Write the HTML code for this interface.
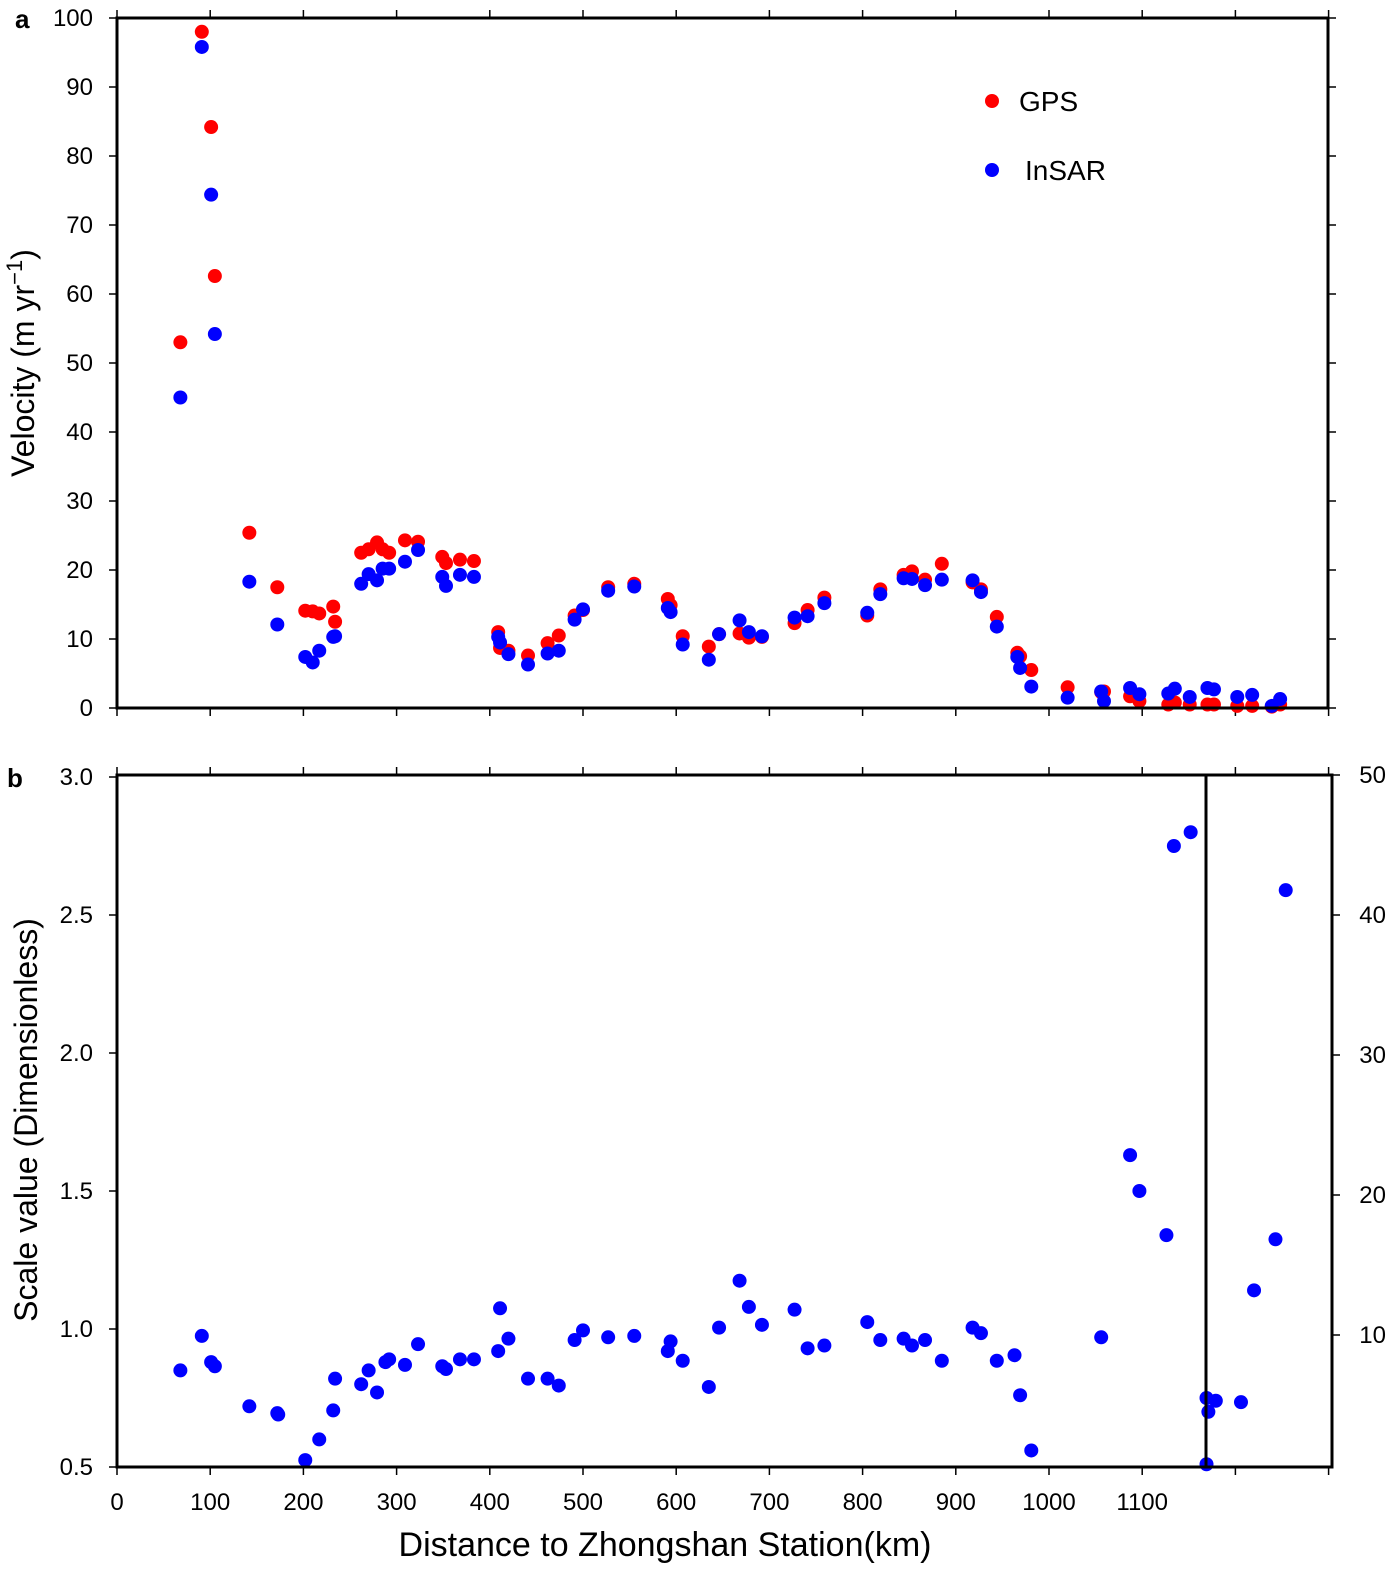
<!DOCTYPE html>
<html><head><meta charset="utf-8"><style>
body{margin:0;background:#fff;}
svg{display:block;font-family:"Liberation Sans","DejaVu Sans",sans-serif;}
</style></head><body>
<svg id="chart" width="1400" height="1580" viewBox="0 0 1400 1580" xmlns="http://www.w3.org/2000/svg">
<g id="gA"></g>
<g id="gB"></g>
</svg>
<script>
// ---- data (distance km, values) ----
const distA = [68,91,101,105,142,172,202,210,217,232,234,262,270,279,285,292,309,323,349,353,368,383,409,411,420,441,462,474,491,500,527,555,591,594,607,635,646,668,678,692,727,741,759,805,819,844,853,867,885,918,927,944,966,969,981,1020,1056,1059,1087,1097,1128,1135,1151,1170,1177,1202,1218,1239,1248];
const gpsVals = [53,98,84.2,62.6,25.4,17.5,14.1,14,13.7,14.7,12.5,22.5,23,24,23,22.5,24.3,24.1,21.9,21,21.5,21.3,11,8.7,8.3,7.6,9.4,10.5,13.4,14.2,17.5,18,15.8,14.9,10.4,8.9,10.7,10.8,10.2,10.3,12.3,14.2,16,13.4,17.2,19.3,19.8,18.6,20.9,18.2,17.2,13.2,8,7.5,5.5,3,2.3,2.4,1.7,1.0,0.5,0.8,0.5,0.5,0.5,0.3,0.3,0.2,0.5];
const insarVals = [45,95.8,74.4,54.2,18.3,12.1,7.4,6.6,8.3,10.3,10.4,18,19.4,18.5,20.2,20.2,21.2,22.9,19,17.7,19.3,19,10.3,9.5,7.8,6.3,7.9,8.3,12.8,14.3,17,17.6,14.5,13.9,9.2,7,10.7,12.7,11,10.4,13.1,13.3,15.2,13.8,16.5,18.8,18.7,17.8,18.6,18.5,16.8,11.8,7.4,5.8,3.1,1.5,2.4,1,2.9,2,2.1,2.8,1.6,2.9,2.7,1.6,1.9,0.3,1.3];
const distB = [68,91,101,105,142,172,173,202,217,232,234,262,270,279,288,292,309,323,349,353,368,383,409,411,420,441,462,474,491,500,527,555,591,594,607,635,646,668,678,692,727,741,759,805,819,844,853,867,885,918,927,944,963,969,981,1056,1087,1097,1126,1134,1152,1169,1171,1179,1206,1220,1243,1254,1169];
const scaleVals = [0.85,0.975,0.88,0.865,0.72,0.695,0.69,0.525,0.6,0.705,0.82,0.8,0.85,0.77,0.88,0.89,0.87,0.945,0.865,0.855,0.89,0.89,0.92,1.075,0.965,0.82,0.82,0.795,0.96,0.995,0.97,0.975,0.92,0.955,0.885,0.79,1.005,1.175,1.08,1.015,1.07,0.93,0.94,1.025,0.96,0.965,0.94,0.96,0.885,1.005,0.985,0.885,0.905,0.76,0.56,0.97,1.63,1.5,1.34,2.75,2.8,0.75,0.7,0.74,0.735,1.14,1.325,2.59,0.51];
const xTicks = [0,100,200,300,400,500,600,700,800,900,1000,1100];
const yTicksA = [0,10,20,30,40,50,60,70,80,90,100];
const yTicksB = ["0.5","1.0","1.5","2.0","2.5","3.0"];
const yTicksR = [10,20,30,40,50];

const NS="http://www.w3.org/2000/svg";
function mk(parent,tag,attrs,text){const e=document.createElementNS(NS,tag);for(const k in attrs)e.setAttribute(k,attrs[k]);if(text!==undefined)e.textContent=text;parent.appendChild(e);return e;}
const X = km => 117 + km*0.932;
const YA = v => 708 - v*6.9;
const YB = v => 1467 - (v-0.5)*276;
const YR = v => 1475 - v*14;
const gA=document.getElementById('gA'), gB=document.getElementById('gB');

// ---- Panel A ----
let t=mk(gA,'text',{x:15,y:28,'font-size':26,'font-weight':'bold'},'a');


for(let k=0;k<=1300;k+=100){
  const x=X(k);
  let l=mk(gA,'line',{x1:x,x2:x,y1:10,y2:18,stroke:'#000','stroke-width':1.5});
  
  
  l=mk(gA,'line',{x1:x,x2:x,y1:708,y2:716,stroke:'#000','stroke-width':1.5});
  
  
}
yTicksA.forEach(v=>{
  const y=YA(v);
  let l=mk(gA,'line',{x1:109,x2:117,y1:y,y2:y,stroke:'#000','stroke-width':1.5});
  
  
  l=mk(gA,'line',{x1:1328,x2:1336,y1:y,y2:y,stroke:'#000','stroke-width':1.5});
  
  
  const tx=mk(gA,'text',{x:93,y:y+8,'font-size':24,'text-anchor':'end'},String(v));
  
  
});
distA.forEach((d,i)=>{
  const c=mk(gA,'circle',{cx:X(d),cy:YA(gpsVals[i]),r:7,fill:'#f00'});
  
  
});
distA.forEach((d,i)=>{
  const c=mk(gA,'circle',{cx:X(d),cy:YA(insarVals[i]),r:7,fill:'#00f'});
  
  
});
let f=mk(gA,'rect',{x:117,y:18,width:1211,height:690,fill:'none',stroke:'#000','stroke-width':3});


let yt=mk(gA,'text',{transform:'translate(34,363) rotate(-90)','font-size':32,'text-anchor':'middle'});


yt.innerHTML='Velocity (m yr<tspan dy="-12" font-size="22">−1</tspan><tspan dy="12">)</tspan>';
let le=mk(gA,'circle',{cx:992,cy:101,r:7,fill:'#f00'});


le=mk(gA,'text',{x:1019,y:111,'font-size':28},'GPS');


le=mk(gA,'circle',{cx:992,cy:170,r:7,fill:'#00f'});


le=mk(gA,'text',{x:1025,y:180,'font-size':28},'InSAR');



// ---- Panel B ----
t=mk(gB,'text',{x:7,y:787,'font-size':26,'font-weight':'bold'},'b');


for(let k=0;k<=1300;k+=100){
  const x=X(k);
  let l=mk(gB,'line',{x1:x,x2:x,y1:767,y2:775,stroke:'#000','stroke-width':1.5});
  
  
  l=mk(gB,'line',{x1:x,x2:x,y1:1467,y2:1475,stroke:'#000','stroke-width':1.5});
  
  
}
xTicks.forEach(k=>{
  const tx=mk(gB,'text',{x:X(k),y:1510,'font-size':24,'text-anchor':'middle'},String(k));
  
  
});
yTicksB.forEach(s=>{
  const y=YB(parseFloat(s));
  let l=mk(gB,'line',{x1:109,x2:117,y1:y,y2:y,stroke:'#000','stroke-width':1.5});
  
  
  const tx=mk(gB,'text',{x:93,y:y+8,'font-size':24,'text-anchor':'end'},s);
  
  
});
yTicksR.forEach(v=>{
  const y=YR(v);
  let l=mk(gB,'line',{x1:1332,x2:1340,y1:y,y2:y,stroke:'#000','stroke-width':1.5});
  
  
  const tx=mk(gB,'text',{x:1386,y:y+8,'font-size':24,'text-anchor':'end'},String(v));
  
  
});
distB.forEach((d,i)=>{
  const c=mk(gB,'circle',{cx:X(d),cy:YB(scaleVals[i]),r:7,fill:'#00f'});
  
  
});
f=mk(gB,'rect',{x:117,y:775,width:1215,height:692,fill:'none',stroke:'#000','stroke-width':3});


let dv=mk(gB,'path',{d:'M1206 1467 V775 H1221',fill:'none',stroke:'#000','stroke-width':3});


yt=mk(gB,'text',{transform:'translate(37,1120) rotate(-90)','font-size':32,'text-anchor':'middle'},'Scale value (Dimensionless)');


let xt=mk(gB,'text',{x:665,y:1556,'font-size':34,'text-anchor':'middle'},'Distance to Zhongshan Station(km)');


</script>
</body></html>
